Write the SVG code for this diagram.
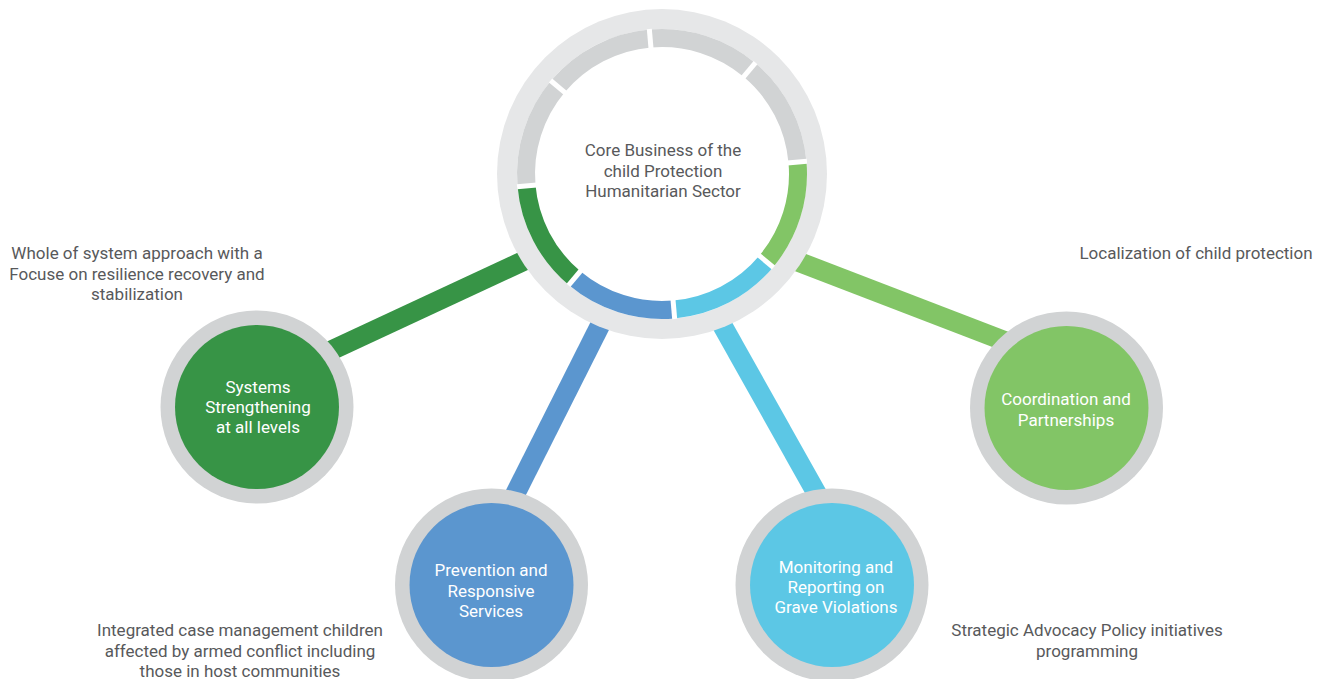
<svg xmlns="http://www.w3.org/2000/svg" width="1327" height="679" viewBox="0 0 1327 679">
<style>
.lbl{font-family:Roboto,"Liberation Sans",sans-serif;font-size:17px;fill:#58595b;text-anchor:middle}
.nt{font-family:Roboto,"Liberation Sans",sans-serif;font-size:17px;fill:#ffffff;text-anchor:middle}
.ring{fill:#d1d3d4}
.seg{fill:none;stroke-width:18}
.gap{stroke:#ffffff;stroke-width:5}
.con{stroke-width:20;fill:none}
</style>
<rect width="1327" height="679" fill="#ffffff"/>
<g id="connectors">
<line class="con" stroke="#379446" x1="560" y1="244" x2="300" y2="365"/>
<line class="con" stroke="#82c566" x1="760" y1="247" x2="1020" y2="347"/>
<line class="con" stroke="#5b96cf" x1="638" y1="250" x2="482" y2="560"/>
<line class="con" stroke="#5cc7e5" x1="680" y1="250" x2="854" y2="560"/>
</g>
<g id="core">
<circle cx="662" cy="174" r="165" fill="#e6e7e8"/>
<circle cx="662" cy="174" r="145" fill="#ffffff"/>
<path class="seg" stroke="#d1d3d4" d="M650.15,38.52 A136,136 0 0 1 749.42,69.82"/>
<path class="seg" stroke="#d1d3d4" d="M749.42,69.82 A136,136 0 0 1 797.48,162.15"/>
<path class="seg" stroke="#82c566" d="M797.48,162.15 A136,136 0 0 1 766.18,261.42"/>
<path class="seg" stroke="#5cc7e5" d="M766.18,261.42 A136,136 0 0 1 673.85,309.48"/>
<path class="seg" stroke="#5b96cf" d="M673.85,309.48 A136,136 0 0 1 574.58,278.18"/>
<path class="seg" stroke="#379446" d="M574.58,278.18 A136,136 0 0 1 526.52,185.85"/>
<path class="seg" stroke="#d1d3d4" d="M526.52,185.85 A136,136 0 0 1 557.82,86.58"/>
<path class="seg" stroke="#d1d3d4" d="M557.82,86.58 A136,136 0 0 1 650.15,38.52"/>
<line class="gap" x1="651.54" y1="54.46" x2="649.32" y2="29.05"/>
<line class="gap" x1="739.13" y1="82.08" x2="755.53" y2="62.54"/>
<line class="gap" x1="781.54" y1="163.54" x2="806.95" y2="161.32"/>
<line class="gap" x1="753.92" y1="251.13" x2="773.46" y2="267.53"/>
<line class="gap" x1="672.46" y1="293.54" x2="674.68" y2="318.95"/>
<line class="gap" x1="584.87" y1="265.92" x2="568.47" y2="285.46"/>
<line class="gap" x1="542.46" y1="184.46" x2="517.05" y2="186.68"/>
<line class="gap" x1="570.08" y1="96.87" x2="550.54" y2="80.47"/>
<text class="lbl"><tspan x="663" y="156">Core Business of the</tspan><tspan x="663" y="176.5">child Protection</tspan><tspan x="663" y="197">Humanitarian Sector</tspan></text>
</g>
<g id="systems">
<circle class="ring" cx="257" cy="407" r="96.5"/>
<circle cx="257" cy="407" r="82" fill="#379446"/>
<text class="nt"><tspan x="258" y="392.5">Systems</tspan><tspan x="258" y="413">Strengthening</tspan><tspan x="258" y="433">at all levels</tspan></text>
</g>
<g id="prevention">
<circle class="ring" cx="491.5" cy="585" r="96.5"/>
<circle cx="491.5" cy="585" r="82" fill="#5b96cf"/>
<text class="nt"><tspan x="491" y="576">Prevention and</tspan><tspan x="491" y="596.5">Responsive</tspan><tspan x="491" y="617">Services</tspan></text>
</g>
<g id="monitoring">
<circle class="ring" cx="832" cy="585" r="96.5"/>
<circle cx="832" cy="585" r="82" fill="#5cc7e5"/>
<text class="nt"><tspan x="836" y="572.5">Monitoring and</tspan><tspan x="836" y="593">Reporting on</tspan><tspan x="836" y="613">Grave Violations</tspan></text>
</g>
<g id="coordination">
<circle class="ring" cx="1066.5" cy="408" r="96.5"/>
<circle cx="1066.5" cy="408" r="82" fill="#82c566"/>
<text class="nt"><tspan x="1066" y="405">Coordination and</tspan><tspan x="1066" y="425.5">Partnerships</tspan></text>
</g>
<g id="labels">
<text class="lbl"><tspan x="137" y="259">Whole of system approach with a</tspan><tspan x="137" y="279.5">Focuse on resilience recovery and</tspan><tspan x="137" y="300">stabilization</tspan></text>
<text class="lbl" x="1196" y="259">Localization of child protection</text>
<text class="lbl"><tspan x="240" y="636">Integrated case management children</tspan><tspan x="240" y="656.5">affected by armed conflict including</tspan><tspan x="240" y="677">those in host communities</tspan></text>
<text class="lbl"><tspan x="1087" y="636">Strategic Advocacy Policy initiatives</tspan><tspan x="1087" y="656.5">programming</tspan></text>
</g>
</svg>
